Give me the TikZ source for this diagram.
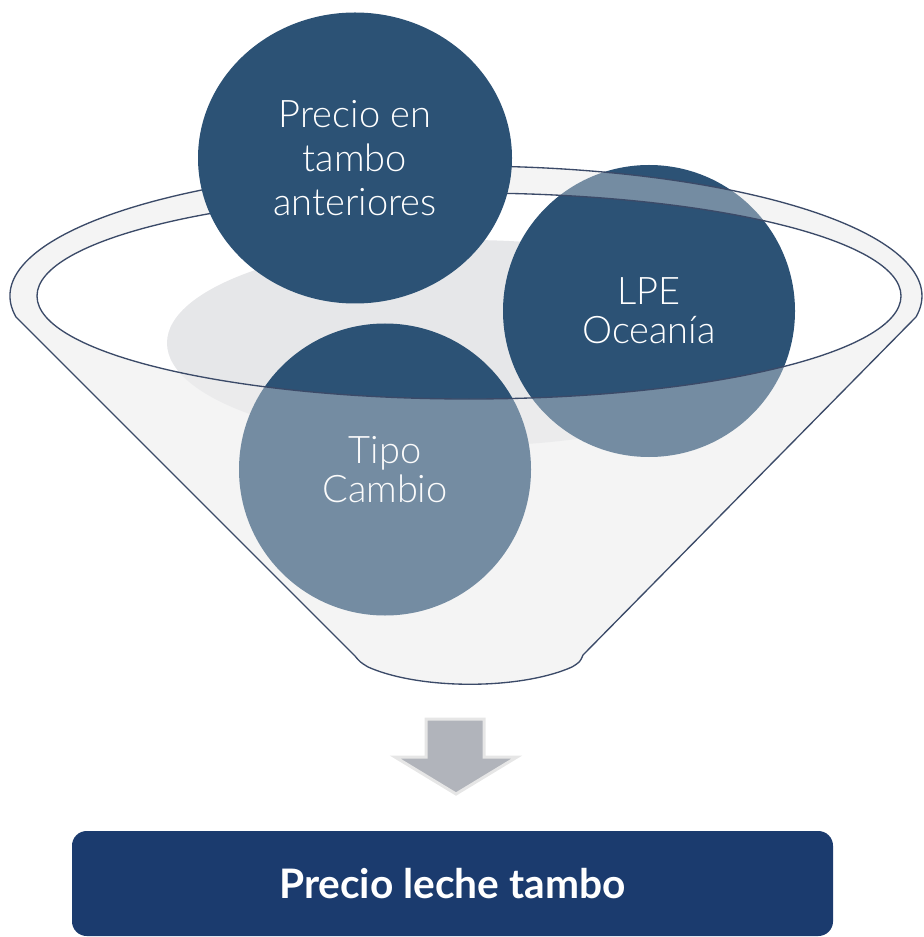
\documentclass[tikz,border=0pt]{standalone}
\usepackage{fontspec}
\setmainfont{Lato}
\newfontfamily\thinfont{Lato Light}
\usetikzlibrary{shapes.geometric}
\definecolor{circdark}{HTML}{2C5275}
\definecolor{funnelbody}{HTML}{F4F4F4}
\definecolor{shadowgray}{HTML}{E6E7E9}
\definecolor{rimline}{HTML}{3B4A68}
\definecolor{arrowfill}{HTML}{B1B4BB}
\definecolor{arrowedge}{HTML}{E6E6E6}
\definecolor{boxblue}{HTML}{1B3B6E}
\begin{document}
\begin{tikzpicture}[x=0.75pt,y=-0.75pt,
  ball/.style={circle, fill=circdark, inner sep=0pt, minimum size=219pt,
    text=white, align=center, font=\thinfont\fontsize{28.5}{29.25}\selectfont},
  outline/.style={draw=rimline, line width=1pt},
  resultbox/.style={fill=boxblue, rounded corners=11pt, inner sep=0pt,
    minimum width=570.75pt, minimum height=78.75pt, text=white,
    font=\bfseries\fontsize{30.5}{33}\selectfont}]
\useasboundingbox (0,0) rectangle (923,937);
\def\funnelpath{(16,317) arc[start angle=170.7, end angle=369.3, x radius=456, y radius=130]
  -- (583,655) .. controls (580,662) .. (572,667) .. controls (520,690) and (420,690) .. (368,667)
  .. controls (360,662) .. (355,656) -- cycle}
\def\mouthpath{(469,296) ellipse[x radius=432, y radius=103]}
% funnel body
\fill[funnelbody, even odd rule] \funnelpath \mouthpath;
% shadow inside
\fill[shadowgray] (467,343) ellipse[x radius=300, y radius=103];
% circles behind the funnel front
\node[ball] (lpe) at (649,311) {LPE\\Oceanía};
\node[ball] (tipo) at (385,469.5) {Tipo\\Cambio};
% translucent front of the funnel
\fill[funnelbody, even odd rule, fill opacity=0.36] \funnelpath \mouthpath;
% outlines
\draw[outline] \funnelpath;
\draw[outline] \mouthpath;
% front circle
\node[ball, ellipse, minimum width=235.5pt, minimum height=218.25pt,
  font=\thinfont\fontsize{28.5}{33}\selectfont] (precio) at (355,158) {Precio en\\tambo\\anteriores};
% arrow
\coordinate (atip) at (456,794);
\fill[arrowfill, draw=arrowedge, line width=2.25pt, line join=miter]
  (426,719) -- (484,719) -- (484,757) -- (517,757) -- (atip) -- (395,757) -- (426,757) -- cycle;
% result
\node[resultbox] (result) at (452.5,883.5) {Precio leche tambo};
\end{tikzpicture}
\end{document}
